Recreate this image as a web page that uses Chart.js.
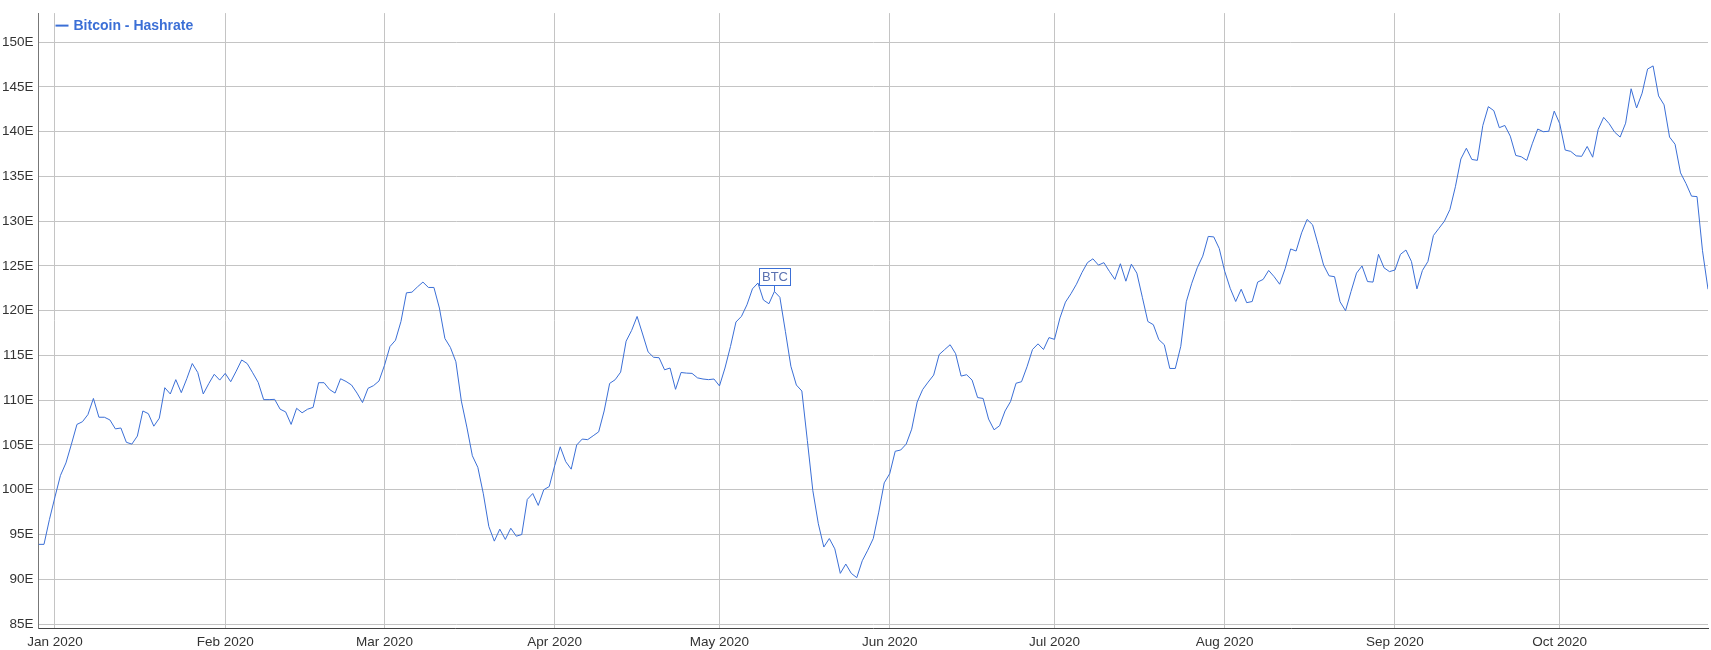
<!DOCTYPE html>
<html>
<head>
<meta charset="utf-8">
<script src="https://cdn.jsdelivr.net/npm/chart.js@4.4.0/dist/chart.umd.min.js"></script>
<style>
  html, body { margin: 0; padding: 0; background: #fff; }
  #wrap { width: 1711px; height: 650px; }
</style>
</head>
<body>
<div id="wrap"><canvas id="chart" width="1711" height="650"></canvas></div>
<script>
//=================================================
//Data
//=================================================
const seriesName = "Bitcoin - Hashrate";
const firstDay = [2019, 11, 29]; // Dec 29 2019, one value per day
const hashrate = [
    93.9, 93.9, 96.7, 99.2, 101.6, 103.0, 105.1, 107.3, 107.6, 108.4,
    110.2, 108.1, 108.1, 107.8, 106.8, 106.9, 105.3, 105.1, 106.0, 108.8,
    108.5, 107.1, 108.0, 111.4, 110.7, 112.3, 110.85, 112.4, 114.1, 113.1,
    110.7, 111.85, 112.9, 112.25, 113.0, 112.07, 113.25, 114.5, 114.1, 113.07,
    112.0, 110.07, 110.07, 110.1, 109.0, 108.7, 107.3, 109.1, 108.6, 109.0,
    109.2, 111.96, 111.96, 111.2, 110.8, 112.4, 112.1, 111.7, 110.8, 109.74,
    111.33, 111.63, 112.15, 113.9, 116.0, 116.7, 118.8, 122.0, 122.07, 122.66,
    123.2, 122.6, 122.6, 120.3, 116.9, 115.9, 114.3, 109.9, 107.0, 103.8,
    102.5, 99.55, 95.9, 94.26, 95.6, 94.45, 95.7, 94.81, 95.0, 98.92,
    99.58, 98.25, 100.0, 100.36, 102.7, 104.8, 103.14, 102.3, 105.0, 105.66,
    105.6, 106.03, 106.47, 108.8, 111.88, 112.29, 113.14, 116.6, 117.8, 119.36,
    117.4, 115.4, 114.8, 114.75, 113.4, 113.6, 111.22, 113.1, 113.03, 113.0,
    112.5, 112.37, 112.3, 112.37, 111.6, 113.6, 116.0, 118.74, 119.37, 120.66,
    122.44, 123.1, 121.2, 120.78, 122.15, 121.5, 117.7, 113.8, 111.7, 111.03,
    105.5, 99.9, 96.2, 93.6, 94.55, 93.4, 90.66, 91.7, 90.66, 90.18,
    92.07, 93.25, 94.55, 97.5, 100.77, 101.8, 104.3, 104.44, 105.1, 106.77,
    109.8, 111.2, 112.03, 112.81, 115.1, 115.66, 116.2, 115.2, 112.7, 112.85,
    112.25, 110.3, 110.2, 107.9, 106.7, 107.15, 108.8, 109.85, 111.9, 112.07,
    113.74, 115.67, 116.3, 115.67, 117.0, 116.8, 119.2, 120.96, 121.9, 122.96,
    124.26, 125.37, 125.8, 125.1, 125.37, 124.4, 123.5, 125.25, 123.3, 125.2,
    124.2, 121.5, 118.8, 118.44, 116.77, 116.2, 113.55, 113.55, 116.03, 121.0,
    123.07, 124.8, 126.1, 128.3, 128.25, 126.96, 124.4, 122.5, 121.03, 122.4,
    120.9, 121.03, 123.2, 123.5, 124.5, 123.8, 122.96, 124.7, 126.9, 126.67,
    128.7, 130.2, 129.6, 127.4, 125.1, 123.9, 123.8, 121.0, 120.0, 122.15,
    124.2, 125.0, 123.26, 123.2, 126.3, 124.8, 124.37, 124.55, 126.3, 126.78,
    125.5, 122.44, 124.5, 125.5, 128.4, 129.2, 130.0, 131.3, 133.85, 136.95,
    138.15, 136.9, 136.8, 140.7, 142.8, 142.35, 140.45, 140.7, 139.5, 137.35,
    137.2, 136.8, 138.65, 140.3, 140.0, 140.05, 142.3, 140.9, 137.95, 137.8,
    137.3, 137.25, 138.35, 137.15, 140.25, 141.6, 140.9, 139.95, 139.4, 140.95,
    144.8, 142.65, 144.3, 147.0, 147.35, 144.0, 143.0, 139.4, 138.6, 135.4,
    134.2, 132.8, 132.75, 126.7, 122.4
];
const monthNames = ["Jan", "Feb", "Mar", "Apr", "May", "Jun", "Jul", "Aug", "Sep", "Oct", "Nov", "Dec"];
const yTicks = [85, 90, 95, 100, 105, 110, 115, 120, 125, 130, 135, 140, 145, 150];
const annotationText = "BTC";
const annotationDay = [2020, 4, 11]; // May 11 2020

//=================================================
//Derived
//=================================================
const days = hashrate.map((_, i) => new Date(firstDay[0], firstDay[1], firstDay[2] + i));
const monthStarts = [];
days.forEach((d, i) => { if (d.getDate() === 1) monthStarts.push(i); });
const tickLabel = (i) => {
    const d = days[i];
    return d ? monthNames[d.getMonth()] + " " + d.getFullYear() : "";
};
const annotationIndex = days.findIndex((d) =>
    d.getFullYear() === annotationDay[0] && d.getMonth() === annotationDay[1] && d.getDate() === annotationDay[2]);

const lineColor = "#3b6fd6";
const fontFamily = "Arial, 'Liberation Sans', sans-serif";

//=================================================
//Plugins
//=================================================
const legendPlugin = {
    id: "topLegend",
    afterDraw(chart) {
        const { ctx, chartArea } = chart;
        const x = chartArea.left + 17;
        const y = chartArea.top + 12.5;
        ctx.save();
        ctx.strokeStyle = lineColor;
        ctx.lineWidth = 2;
        ctx.beginPath();
        ctx.moveTo(x, y);
        ctx.lineTo(x + 13, y);
        ctx.stroke();
        ctx.fillStyle = lineColor;
        ctx.font = "bold 14px " + fontFamily;
        ctx.textBaseline = "middle";
        ctx.fillText(seriesName, x + 18, y + 0.5);
        ctx.restore();
    },
};

const annotationPlugin = {
    id: "pointNote",
    afterDatasetsDraw(chart) {
        const pt = chart.getDatasetMeta(0).data[annotationIndex];
        if (!pt) return;
        const { ctx } = chart;
        const w = 31, h = 17, stem = 6;
        const bx = Math.round(pt.x - w / 2) + 0.5;
        const by = Math.round(pt.y - stem - h) + 0.5;
        ctx.save();
        ctx.strokeStyle = lineColor;
        ctx.lineWidth = 1;
        ctx.beginPath();
        ctx.moveTo(Math.round(pt.x) + 0.5, pt.y);
        ctx.lineTo(Math.round(pt.x) + 0.5, by + h);
        ctx.stroke();
        ctx.fillStyle = "#fff";
        ctx.fillRect(bx, by, w, h);
        ctx.strokeRect(bx, by, w, h);
        ctx.fillStyle = "#5b72b0";
        ctx.font = "13px " + fontFamily;
        ctx.textAlign = "center";
        ctx.textBaseline = "middle";
        ctx.fillText(annotationText, bx + w / 2, by + h / 2 + 0.5);
        ctx.restore();
    },
};

//=================================================
//Chart.js
//=================================================
const drawChart = () => {
    const data = {
        datasets: [
            {
                label: seriesName,
                data: hashrate.map((v, i) => ({ x: i, y: v })),
                borderColor: lineColor,
                borderWidth: 1,
                pointRadius: 0,
                pointHoverRadius: 0,
                tension: 0,
                fill: false,
            },
        ],
    };

    const config = {
        type: "line",
        data: data,
        options: {
            responsive: false,
            animation: false,
            layout: {
                padding: { top: 10, right: 3, bottom: 0, left: 0 },
            },
            scales: {
                x: {
                    type: "linear",
                    min: 0,
                    max: hashrate.length - 1,
                    afterBuildTicks: (axis) => {
                        axis.ticks = monthStarts.map((i) => ({ value: i }));
                    },
                    afterFit: (axis) => {
                        axis.height = 21.5;
                    },
                    grid: { color: "#c4c4c4", drawTicks: false },
                    border: { color: "#444" },
                    ticks: {
                        autoSkip: false,
                        maxRotation: 0,
                        padding: 6,
                        color: "#333",
                        font: { size: 13.5, family: fontFamily },
                        callback: (v) => tickLabel(v),
                    },
                },
                y: {
                    min: 84.5,
                    max: 153.25,
                    afterBuildTicks: (axis) => {
                        axis.ticks = yTicks.map((v) => ({ value: v }));
                    },
                    afterFit: (axis) => {
                        axis.width = 38.5;
                    },
                    grid: { color: "#c4c4c4", drawTicks: false },
                    border: { color: "#777" },
                    ticks: {
                        padding: 5,
                        color: "#333",
                        font: { size: 13.5, family: fontFamily },
                        callback: (v) => v + "E",
                    },
                },
            },
            plugins: {
                legend: { display: false },
                tooltip: { enabled: false },
            },
        },
        plugins: [legendPlugin, annotationPlugin],
    };

    new Chart(document.getElementById("chart"), config);
};

drawChart();
</script>
</body>
</html>
